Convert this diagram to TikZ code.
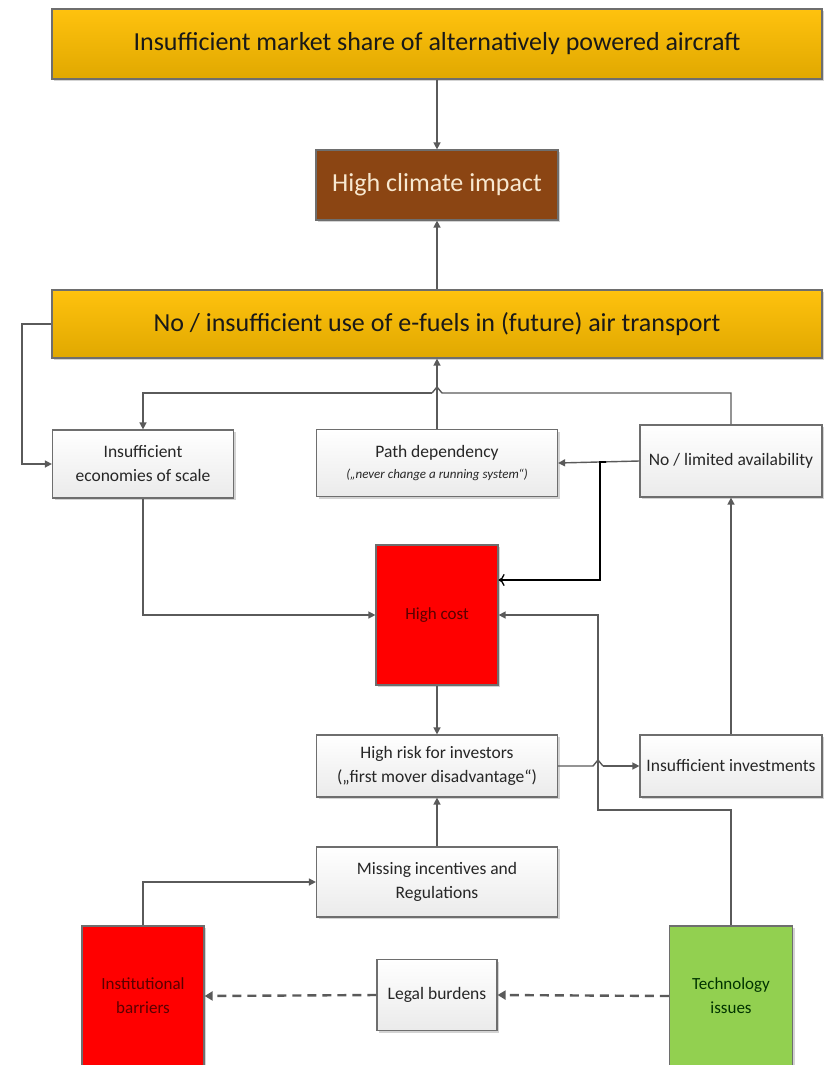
\documentclass[tikz,border=0pt]{standalone}
\usepackage{fontspec}
\setmainfont{Carlito}
\usetikzlibrary{arrows.meta,shadows,calc}
\definecolor{goldtop}{HTML}{FFC20E}
\definecolor{goldbot}{HTML}{E0A800}
\definecolor{brownbox}{HTML}{8B4513}
\definecolor{cream}{HTML}{F8E8D0}
\definecolor{linegray}{HTML}{5A5A5A}
\definecolor{boxedge}{HTML}{6E6E6E}
\definecolor{greenbox}{HTML}{92D050}
\definecolor{darkred}{HTML}{5A0000}
\definecolor{txtgray}{HTML}{262626}
\tikzset{
  base/.style={draw=boxedge, line width=1.2pt, align=center, inner sep=2pt,
    drop shadow={shadow xshift=2pt, shadow yshift=-2pt, opacity=0.35}},
  goldbox/.style={base, top color=goldtop, bottom color=goldbot, text=black!90,
    font=\fontsize{26}{30}\selectfont, minimum width=770pt, minimum height=70pt},
  whitebox/.style={base, top color=white, bottom color=black!8, text=txtgray,
    font=\fontsize{17.5}{24}\selectfont},
  redbox/.style={base, fill=red, text=darkred, font=\fontsize{17}{24}\selectfont,
    minimum width=122pt, minimum height=140pt},
  conn/.style={draw=linegray, line width=1.4pt, -{Triangle[length=7pt,width=7pt]}},
  plain/.style={draw=linegray, line width=1.4pt},
  dashconn/.style={draw=linegray, line width=2.4pt, dash pattern=on 9pt off 6pt,
    -{Triangle[length=8pt,width=9pt]}}
}
\begin{document}
\begin{tikzpicture}[x=1pt,y=-1pt]
\useasboundingbox (0,0) rectangle (828,1065);
% boxes
\node[goldbox] (top) at (437,44) {Insufficient market share of alternatively powered aircraft};
\node[base, fill=brownbox, text=cream, font=\fontsize{26}{30}\selectfont,
  minimum width=242pt, minimum height=70pt] (climate) at (437,185) {High climate impact};
\node[goldbox, minimum height=68pt] (efuel) at (437,324) {No / insufficient use of e-fuels in (future) air transport};
\node[whitebox, minimum width=181pt, minimum height=68pt] (ies) at (143,464) {Insufficient\\economies of scale};
\node[whitebox, minimum width=241pt, minimum height=67pt] (path) at (437,463)
  {Path dependency\\[-3pt]{\fontsize{13}{15}\selectfont\itshape(„never change a running system“)}};
\node[whitebox, minimum width=182pt, minimum height=72pt] (avail) at (731,461) {No / limited availability};
\node[redbox] (cost) at (437,615) {High cost};
\node[whitebox, minimum width=241pt, minimum height=62pt] (risk) at (437,766)
  {High risk for investors\\(„first mover disadvantage“)};
\node[whitebox, minimum width=182pt, minimum height=62pt] (invest) at (731,766) {Insufficient investments};
\node[whitebox, minimum width=241pt, minimum height=70pt] (miss) at (437,882) {Missing incentives and\\Regulations};
\node[redbox] (inst) at (143,996) {Institutional\\barriers};
\node[base, fill=greenbox, text=black!80!green, font=\fontsize{17}{24}\selectfont,
  minimum width=123pt, minimum height=140pt] (tech) at (731,996) {Technology\\issues};
\node[whitebox, minimum width=120pt, minimum height=71pt] (legal) at (437,995) {Legal burdens};
% coordinates
\coordinate (hopA) at (442,393);
\coordinate (hopB) at (432,393);
\coordinate (hopC) at (437,387);
\coordinate (lx) at (22,324);
\coordinate (bk0) at (606,462);
\coordinate (bk1) at (600,462);
\coordinate (bk2) at (600,580);
\coordinate (tk) at (598,810);
\coordinate (r1) at (593,766);
\coordinate (r2) at (598,760);
\coordinate (r3) at (603,766);
% connectors
\draw[conn] (top.south) -- (climate.north);
\draw[conn] (efuel.north) -- (climate.south);
\draw[conn] (path.north) -- (efuel.south);
\draw[plain] (avail.north) |- (hopA) -- (hopC) -- (hopB);
\draw[conn] (hopB) -| (ies.north);
\draw[conn] (efuel.west) -- (lx) |- (ies.west);
\draw[conn] (avail.west) -- (path.east);
\draw[black, line width=1.3pt, -{To[length=6pt,width=12pt]}] (bk0) -- (bk1) -- (bk2) -- (bk2 -| cost.east);
\draw[conn] (ies.south) |- (cost.west);
\draw[conn] (tech.north) |- (tk) |- (cost.east);
\draw[conn] (cost.south) -- (risk.north);
\draw[plain] (risk.east) -- (r1) -- (r2) -- (r3);
\draw[conn] (r3) -- (invest.west);
\draw[conn] (invest.north) -- (avail.south);
\draw[conn] (miss.north) -- (risk.south);
\draw[conn] (inst.north) |- (miss.west);
\draw[dashconn] (tech.west) -- (legal.east);
\draw[dashconn] (legal.west) -- (inst.east);
\end{tikzpicture}
\end{document}
